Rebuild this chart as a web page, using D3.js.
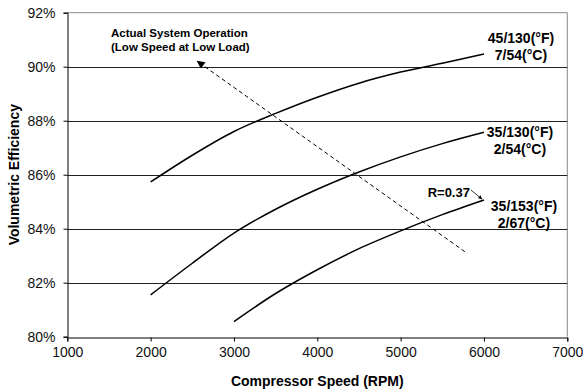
<!DOCTYPE html>
<html>
<head>
<meta charset="utf-8">
<script src="https://cdn.jsdelivr.net/npm/d3@7"></script>
<style>
  body { margin: 0; background: #fff; }
  text { font-family: "Liberation Sans", Arial, sans-serif; }
</style>
</head>
<body>
<div id="container"></div>
<script>
var speedTicks = [1000, 2000, 3000, 4000, 5000, 6000, 7000];
var effTicks = [80, 82, 84, 86, 88, 90, 92];

// compressor speed (RPM) for each curve
var speedHigh = [2000, 2500, 3000, 3500, 4000, 4500, 5000, 5500, 6000];
var speedMid = [2000, 2500, 3000, 3500, 4000, 4500, 5000, 5500, 6000];
var speedLow = [3000, 3500, 4000, 4500, 5000, 5500, 6000];

// volumetric efficiency (%)
var eff45_130 = [85.73, 86.72, 87.6, 88.27, 88.87, 89.39, 89.8, 90.13, 90.47];
var eff35_130 = [81.55, 82.72, 83.84, 84.72, 85.46, 86.1, 86.66, 87.15, 87.57];
var eff35_153 = [80.56, 81.6, 82.48, 83.26, 83.92, 84.52, 85.06];

var curveLabels = [
    ['45/130(°F)', '7/54(°C)'],
    ['35/130(°F)', '2/54(°C)'],
    ['35/153(°F)', '2/67(°C)']
];

// dashed trend arrow, from low-load end to high-load end
var trendSpeed = [5770, 2560];
var trendEff = [83.15, 90.2];

var width = 583, height = 392;
var margin = {top: 12.7, right: 15.7, bottom: 55.3, left: 67.3};

var svg = d3.select('#container').append('svg')
    .attr('width', width)
    .attr('height', height);

var x = d3.scaleLinear().domain([1000, 7000]).range([margin.left, width - margin.right]);
var y = d3.scaleLinear().domain([80, 92]).range([height - margin.bottom, margin.top]);

// plot border (grey) on top and right
svg.append('path')
    .attr('d', 'M' + x(1000) + ',' + y(92) + 'H' + x(7000) + 'V' + y(80))
    .attr('fill', 'none')
    .attr('stroke', '#8a8a8a')
    .attr('stroke-width', 1);

// horizontal gridlines
svg.append('g').selectAll('line')
    .data(effTicks.filter(function (d) { return d > 80 && d < 92; }))
    .enter().append('line')
    .attr('x1', x(1000))
    .attr('x2', x(7000))
    .attr('y1', function (d) { return Math.round(y(d)) + 0.5; })
    .attr('y2', function (d) { return Math.round(y(d)) + 0.5; })
    .attr('stroke', '#222')
    .attr('stroke-width', 1);

// axes
var xAxis = svg.append('g')
    .attr('transform', 'translate(0,' + (Math.round(y(80)) + 0.5) + ')')
    .call(d3.axisBottom(x).tickValues(speedTicks).tickSize(4).tickPadding(6).tickFormat(d3.format('d')));
var yAxis = svg.append('g')
    .attr('transform', 'translate(' + (Math.round(x(1000)) + 0.5) + ',0)')
    .call(d3.axisLeft(y).tickValues(effTicks).tickSize(4).tickPadding(8).tickFormat(function (d) { return d + '%'; }));

[xAxis, yAxis].forEach(function (ax) {
    ax.select('.domain').attr('stroke', '#000');
    ax.selectAll('.tick line').attr('stroke', '#000');
    ax.selectAll('text')
        .attr('fill', '#111')
        .style('font-size', '14px')
        .style('font-family', '"Liberation Sans", Arial, sans-serif');
});

// axis titles
svg.append('text')
    .attr('x', (x(1000) + x(7000)) / 2)
    .attr('y', 386)
    .attr('text-anchor', 'middle')
    .style('font-size', '14px')
    .style('font-weight', 'bold')
    .text('Compressor Speed (RPM)');

svg.append('text')
    .attr('transform', 'translate(19,' + ((y(80) + y(92)) / 2) + ') rotate(-90)')
    .attr('text-anchor', 'middle')
    .style('font-size', '14px')
    .style('font-weight', 'bold')
    .text('Volumetric Efficiency');

// curves
var series = [
    {speed: speedHigh, eff: eff45_130},
    {speed: speedMid, eff: eff35_130},
    {speed: speedLow, eff: eff35_153}
];

var line = d3.line()
    .x(function (d) { return x(d[0]); })
    .y(function (d) { return y(d[1]); })
    .curve(d3.curveCatmullRom.alpha(0.5));

svg.append('g').selectAll('path')
    .data(series)
    .enter().append('path')
    .attr('d', function (s) { return line(d3.zip(s.speed, s.eff)); })
    .attr('fill', 'none')
    .attr('stroke', '#000')
    .attr('stroke-width', 1.5);

// curve labels next to the last point of each curve
var labelOffsets = [{dx: 37, dy: -11}, {dx: 36, dy: 5}, {dx: 40, dy: 11}];
series.forEach(function (s, i) {
    var n = s.speed.length - 1;
    var px = x(s.speed[n]) + labelOffsets[i].dx;
    var py = y(s.eff[n]) + labelOffsets[i].dy;
    var t = svg.append('text')
        .attr('text-anchor', 'middle')
        .style('font-size', '14px')
        .style('font-weight', 'bold');
    curveLabels[i].forEach(function (str, k) {
        t.append('tspan').attr('x', px).attr('y', py + k * 16.8).text(str);
    });
});

// R=0.37 note with small arrow to the low curve end
var lowEnd = [x(speedLow[speedLow.length - 1]), y(eff35_153[eff35_153.length - 1])];
svg.append('text')
    .attr('x', lowEnd[0] - 14)
    .attr('y', lowEnd[1] - 3.5)
    .attr('text-anchor', 'end')
    .style('font-size', '13px')
    .style('font-weight', 'bold')
    .text('R=0.37');

var defs = svg.append('defs');
defs.append('marker')
    .attr('id', 'tip')
    .attr('viewBox', '0 0 10 10')
    .attr('refX', 9).attr('refY', 5)
    .attr('markerWidth', 10).attr('markerHeight', 8)
    .attr('markerUnits', 'userSpaceOnUse')
    .attr('orient', 'auto')
    .append('path').attr('d', 'M0,0L10,5L0,10Z').attr('fill', '#000');
defs.append('marker')
    .attr('id', 'tipSmall')
    .attr('viewBox', '0 0 10 10')
    .attr('refX', 9).attr('refY', 5)
    .attr('markerWidth', 5).attr('markerHeight', 4)
    .attr('markerUnits', 'userSpaceOnUse')
    .attr('orient', 'auto')
    .append('path').attr('d', 'M0,0L10,5L0,10Z').attr('fill', '#000');

svg.append('line')
    .attr('x1', lowEnd[0] - 13).attr('y1', lowEnd[1] - 10)
    .attr('x2', lowEnd[0] - 2).attr('y2', lowEnd[1] - 1)
    .attr('stroke', '#000')
    .attr('stroke-width', 0.8)
    .attr('marker-end', 'url(#tipSmall)');

// dashed trend arrow
svg.append('line')
    .attr('x1', x(trendSpeed[0])).attr('y1', y(trendEff[0]))
    .attr('x2', x(trendSpeed[1])).attr('y2', y(trendEff[1]))
    .attr('stroke', '#000')
    .attr('stroke-width', 1)
    .attr('stroke-dasharray', '4,3')
    .attr('marker-end', 'url(#tip)');

var note = svg.append('text')
    .style('font-size', '11.5px')
    .style('font-weight', 'bold');
note.append('tspan').attr('x', 111).attr('y', 37).text('Actual System Operation');
note.append('tspan').attr('x', 111).attr('y', 51).text('(Low Speed at Low Load)');
</script>
</body>
</html>
